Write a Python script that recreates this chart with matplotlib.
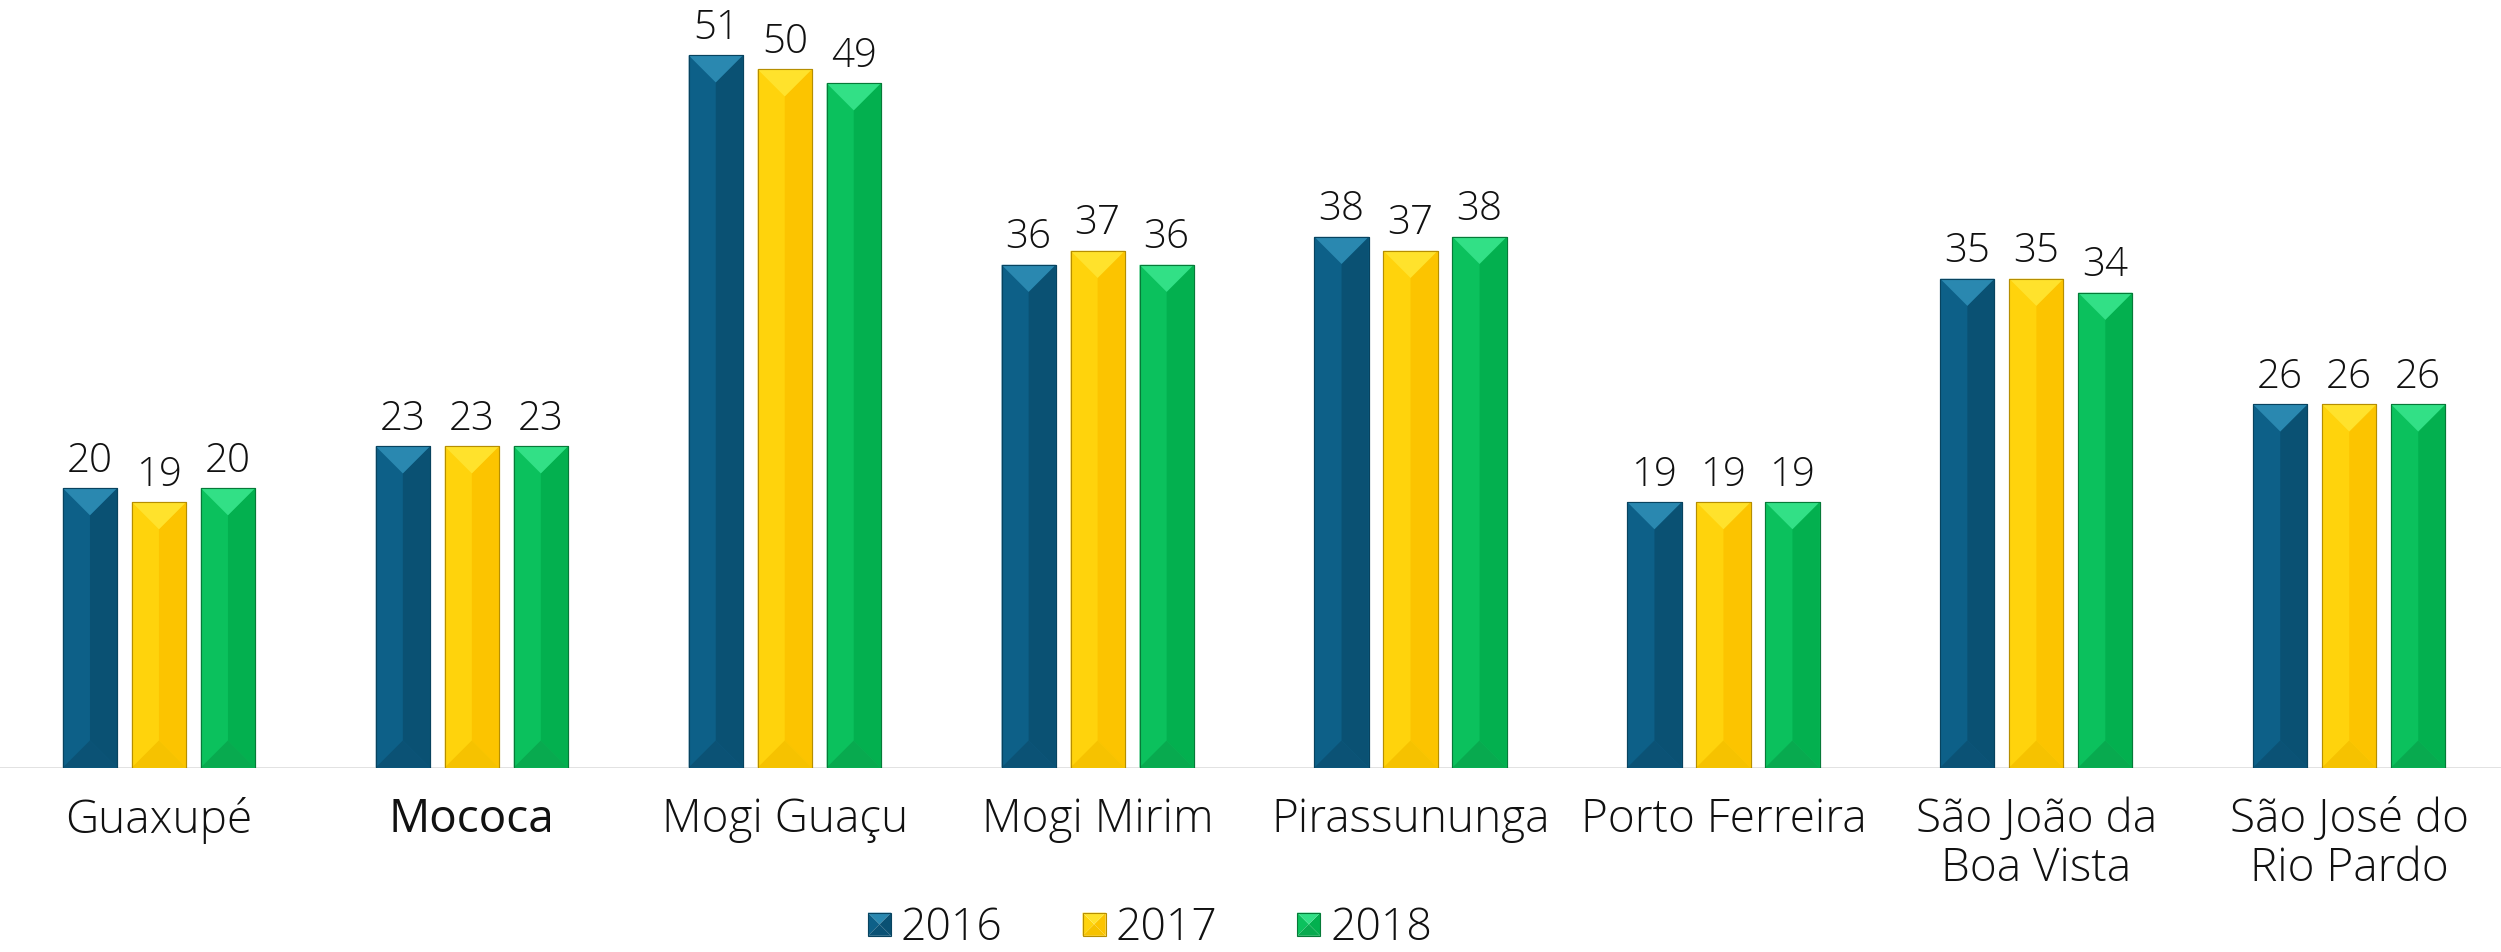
import matplotlib
matplotlib.use("Agg")
import matplotlib.pyplot as plt
from matplotlib.patches import Polygon, Patch
from matplotlib.legend_handler import HandlerBase
import numpy as np

# data
cities = ["Guaxupé", "Mococa", "Mogi Guaçu", "Mogi Mirim", "Pirassununga",
          "Porto Ferreira", "São João da\nBoa Vista", "São José do\nRio Pardo"]
years = ["2016", "2017", "2018"]
v2016 = [20, 23, 51, 36, 38, 19, 35, 26]
v2017 = [19, 23, 50, 37, 37, 19, 35, 26]
v2018 = [20, 23, 49, 36, 38, 19, 34, 26]
series = [v2016, v2017, v2018]

# face shades: left, right, top, bottom, edge
shades = [
    dict(left="#0d6088", right="#0a5173", top="#2a88b0", bottom="#0b5275", edge="#08435f"),
    dict(left="#ffd30c", right="#fcc400", top="#ffe22c", bottom="#f6c200", edge="#b68e00"),
    dict(left="#0bc15d", right="#03b04f", top="#32e086", bottom="#08aa4f", edge="#067a38"),
]

FONT = "Open Sans"
plt.rcParams["font.family"] = [FONT, "DejaVu Sans"]
TEXT = "#111111"


def bevel_polys(x0, w, h, d, sh):
    """Four faces of a bevelled bar: left, right, top, bottom."""
    xm = x0 + w / 2
    x1 = x0 + w
    d = min(d, h / 2)
    return [
        Polygon([(x0, 0), (xm, d), (xm, h - d), (x0, h)], closed=True, fc=sh["left"], ec="none"),
        Polygon([(xm, d), (x1, 0), (x1, h), (xm, h - d)], closed=True, fc=sh["right"], ec="none"),
        Polygon([(x0, h), (x1, h), (xm, h - d)], closed=True, fc=sh["top"], ec="none"),
        Polygon([(x0, 0), (x1, 0), (xm, d)], closed=True, fc=sh["bottom"], ec="none"),
    ]


class BevelHandler(HandlerBase):
    def __init__(self, sh):
        super().__init__()
        self.sh = sh

    def create_artists(self, legend, orig_handle, xdescent, ydescent,
                       width, height, fontsize, trans):
        s = min(width, height)
        x0 = -xdescent + (width - s) / 2
        y0 = -ydescent + (height - s) / 2
        polys = []
        for p in bevel_polys(0, s, s, s / 2, self.sh):
            p.set_xy(p.get_xy() + np.array([x0, y0]))
            p.set_transform(trans)
            polys.append(p)
        frame = Polygon([(x0, y0), (x0 + s, y0), (x0 + s, y0 + s), (x0, y0 + s)],
                        closed=True, fc="none", ec=self.sh["edge"], lw=0.8, transform=trans)
        polys.append(frame)
        return polys


fig = plt.figure(figsize=(25.01, 9.52), dpi=100)
ax = fig.add_axes([0, 0.1938, 1, 0.8067])
ax.set_xlim(-0.508, 7.485)
ax.set_ylim(0, 55)

x = np.arange(len(cities))
bar_w = 0.173
step = 0.2205

bar_sets = []
for i, vals in enumerate(series):
    bars = ax.bar(x + (i - 1) * step, vals, width=bar_w, color=shades[i]["left"],
                  edgecolor=shades[i]["edge"], linewidth=0.8, zorder=2)
    bar_sets.append(bars)

# bevel depth = half of the bar width in pixels, converted to y data units
p0 = ax.transData.transform((0, 0))
p1 = ax.transData.transform((bar_w / 2, 0))
hw_px = p1[0] - p0[0]
depth = ax.transData.inverted().transform((p0[0], p0[1] + hw_px))[1]

for i, bars in enumerate(bar_sets):
    for b, v in zip(bars, series[i]):
        for p in bevel_polys(b.get_x(), b.get_width(), v, depth, shades[i]):
            p.set_zorder(3)
            ax.add_patch(p)
        edge = Polygon([(b.get_x(), 0), (b.get_x() + b.get_width(), 0),
                        (b.get_x() + b.get_width(), v), (b.get_x(), v)],
                       closed=True, fc="none", ec=shades[i]["edge"], lw=0.8, zorder=4)
        ax.add_patch(edge)
        ax.annotate(str(v), (b.get_x() + b.get_width() / 2, v), xytext=(0, 12),
                    textcoords="offset points", ha="center", va="baseline",
                    fontsize=29, fontweight="light", color=TEXT)

ax.axhline(0, color="#d9d9d9", lw=1.8, zorder=1)

ax.set_xticks(x)
ax.set_xticklabels(cities, fontsize=33, fontweight="light", color=TEXT,
                   linespacing=1.1)
ax.get_xticklabels()[1].set_fontweight("normal")
ax.tick_params(axis="x", length=0, pad=21)
ax.set_yticks([])
for s in ax.spines.values():
    s.set_visible(False)

handles = [Patch(facecolor=sh["left"], label=yr) for yr, sh in zip(years, shades)]
hmap = {h: BevelHandler(sh) for h, sh in zip(handles, shades)}
fig.legend(handles=handles, handler_map=hmap, loc="lower center",
           bbox_to_anchor=(1150 / 2501, 1 / 952), ncol=3, frameon=False,
           prop=dict(family=[FONT, "DejaVu Sans"], size=32, weight="light"),
           handlelength=0.52, handleheight=0.52, handletextpad=0.22,
           columnspacing=1.8, borderpad=0, borderaxespad=0, labelcolor=TEXT)

fig.savefig("out.png", dpi=100)
